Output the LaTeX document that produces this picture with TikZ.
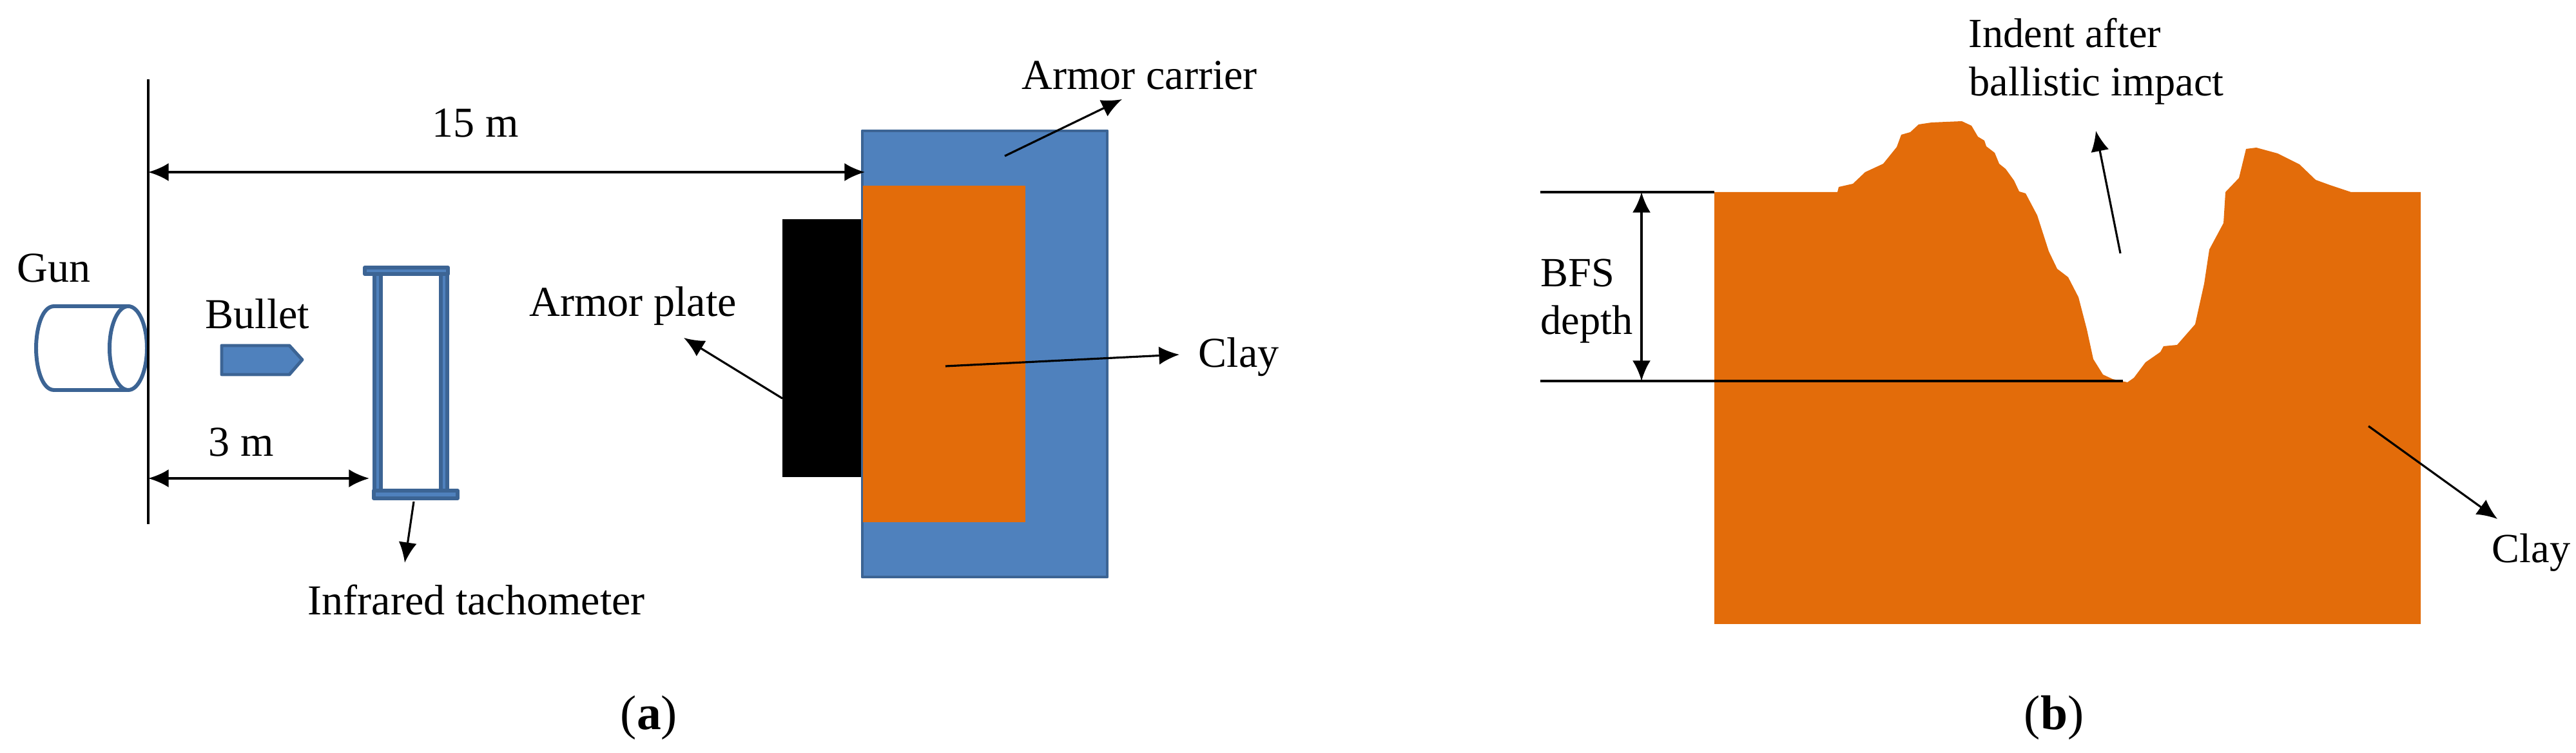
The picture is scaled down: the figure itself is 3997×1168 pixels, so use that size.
\documentclass[tikz,border=0pt]{standalone}
\usepackage{fontspec}
\setmainfont{Liberation Serif}
\usepackage{tikz}
\usetikzlibrary{arrows.meta}
\tikzstyle{sketch} = [x = .01cm, y = -.01cm]
\definecolor{partBlue}{HTML}{4F81BD}
\definecolor{partEdge}{HTML}{3C6494}
\definecolor{clayColor}{HTML}{E36C0A}
\tikzstyle{partStyle} = [draw=partEdge, fill=partBlue, line width=1.4pt, line join=round]
\tikzstyle{barStyle} = [draw=partEdge, fill=partBlue, line width=1.7pt, line join=round]
\tikzstyle{outlineStyle} = [draw=partEdge, fill=white, line width=1.7pt, line join=round]
\tikzstyle{clayStyle} = [fill=clayColor]
\tikzstyle{plainLine} = [color=black, line width=1.1pt]
\tikzstyle{dimensionLine} = [plainLine, {Latex[length=9pt,width=8pt]}-{Latex[length=9pt,width=8pt]}]
\tikzstyle{pointerLine} = [color=black, line width=.9pt, -{Latex[length=9pt,width=8pt]}]
\tikzstyle{leftText} = [font=\fontsize{18.8}{23}\selectfont, anchor=base west, inner sep=0pt]
\tikzstyle{rightText} = [font=\fontsize{18.3}{22}\selectfont, anchor=base west, inner sep=0pt]
\tikzstyle{panelText} = [font=\fontsize{21.5}{26}\selectfont, anchor=base, inner sep=0pt]
\newcommand{\pointerArrow}[2]{\draw [pointerLine] (#1) -- (#2);}
\newcommand{\dimensionArrow}[2]{\draw [dimensionLine] (#1) -- (#2);}
\begin{document}
\begin{tikzpicture}[sketch]
  \useasboundingbox (0,0) rectangle (3997,1168);

  % left panel
  \coordinate (lineTop) at (230,123);
  \coordinate (lineBottom) at (230,813);
  \coordinate (longStart) at (230,267);
  \coordinate (longEnd) at (1342,267);
  \coordinate (shortStart) at (230,742);
  \coordinate (shortEnd) at (573,742);

  \filldraw [partStyle] (1338,203) rectangle (1718,895);
  \fill [clayStyle] (1339,288) rectangle (1591,810);
  \fill [black] (1214,340) rectangle (1336,740);

  \draw [outlineStyle] (199,475) -- (84,475) .. controls (65,475) and (56,510) .. (56,540)
    .. controls (56,570) and (65,605) .. (84,605) -- (199,605);
  \draw [outlineStyle] (199,540) ellipse [x radius=29, y radius=65];
  \filldraw [partStyle] (344,536) -- (449,536) -- (469,558) -- (449,581) -- (344,581) -- cycle;

  \filldraw [barStyle] (566,415) rectangle (695,425);
  \filldraw [barStyle] (580,761) rectangle (710,773);
  \filldraw [barStyle] (581,425) rectangle (591,761);
  \filldraw [barStyle] (684,425) rectangle (694,761);

  \draw [plainLine] (lineTop) -- (lineBottom);
  \dimensionArrow{longStart}{longEnd}
  \dimensionArrow{shortStart}{shortEnd}

  \node [leftText] (gunText) at (26,438) {Gun};
  \node [leftText] (bulletText) at (318,510) {Bullet};
  \node [leftText] (shortText) at (323,708) {3 m};
  \node [leftText] (longText) at (670,213) {15 m};
  \node [leftText] (tachometerText) at (477,954) {Infrared tachometer};
  \node [leftText] (plateText) at (821,491) {Armor plate};
  \node [leftText] (carrierText) at (1585,139) {Armor carrier};
  \node [leftText] (clayTextA) at (1859,570) {Clay};
  \node [panelText] (panelA) at (1007,1132) {(\textbf{a})};

  \coordinate (tachometerFrom) at (642,778);
  \coordinate (tachometerTo) at (628,873);
  \coordinate (plateFrom) at (1214,618);
  \coordinate (plateTo) at (1061,524);
  \coordinate (carrierFrom) at (1559,242);
  \coordinate (carrierTo) at (1741,154);
  \coordinate (clayFromA) at (1467,568);
  \coordinate (clayToA) at (1830,550);
  \pointerArrow{tachometerFrom}{tachometerTo}
  \pointerArrow{plateFrom}{plateTo}
  \pointerArrow{carrierFrom}{carrierTo}
  \pointerArrow{clayFromA}{clayToA}

  % right panel
  \fill [clayStyle] (2660,968) -- (2660,298) -- (2851,298) -- (2853,290) -- (2875,285)
    -- (2894,267) -- (2922,254) -- (2943,228) -- (2950,209) -- (2964,205) -- (2977,193)
    -- (2997,190) -- (3044,188) -- (3059,195) -- (3069,212) -- (3079,218) -- (3082,227)
    -- (3095,237) -- (3102,254) -- (3112,262) -- (3125,280) -- (3133,297) -- (3143,300)
    -- (3161,334) -- (3179,390) -- (3192,417) -- (3209,430) -- (3225,461) -- (3238,511)
    -- (3248,557) -- (3263,581) -- (3278,588) -- (3301,593) -- (3311,586) -- (3329,562)
    -- (3352,546) -- (3357,537) -- (3378,535) -- (3406,503) -- (3420,440) -- (3428,387)
    -- (3450,346) -- (3453,298) -- (3474,276) -- (3485,231) -- (3501,229) -- (3534,238)
    -- (3568,255) -- (3593,279) -- (3615,287) -- (3648,298) -- (3756,298) -- (3756,968) -- cycle;

  \coordinate (topLineStart) at (2390,298);
  \coordinate (topLineEnd) at (2660,298);
  \coordinate (bottomLineStart) at (2390,591);
  \coordinate (bottomLineEnd) at (3294,591);
  \coordinate (depthTop) at (2547,298);
  \coordinate (depthBottom) at (2547,591);
  \draw [plainLine] (topLineStart) -- (topLineEnd);
  \draw [plainLine] (bottomLineStart) -- (bottomLineEnd);
  \dimensionArrow{depthTop}{depthBottom}

  \node [rightText] (bfsText) at (2390,445) {BFS};
  \node [rightText] (depthText) at (2390,519) {depth};
  \node [rightText] (indentText) at (3054,74) {Indent after};
  \node [rightText] (impactText) at (3055,149) {ballistic impact};
  \node [rightText] (clayTextB) at (3866,873) {Clay};
  \node [panelText] (panelB) at (3187,1132) {(\textbf{b})};

  \coordinate (indentFrom) at (3290,393);
  \coordinate (indentTo) at (3252,203);
  \coordinate (clayFromB) at (3675,661);
  \coordinate (clayToB) at (3875,805);
  \pointerArrow{indentFrom}{indentTo}
  \pointerArrow{clayFromB}{clayToB}
\end{tikzpicture}
\end{document}
